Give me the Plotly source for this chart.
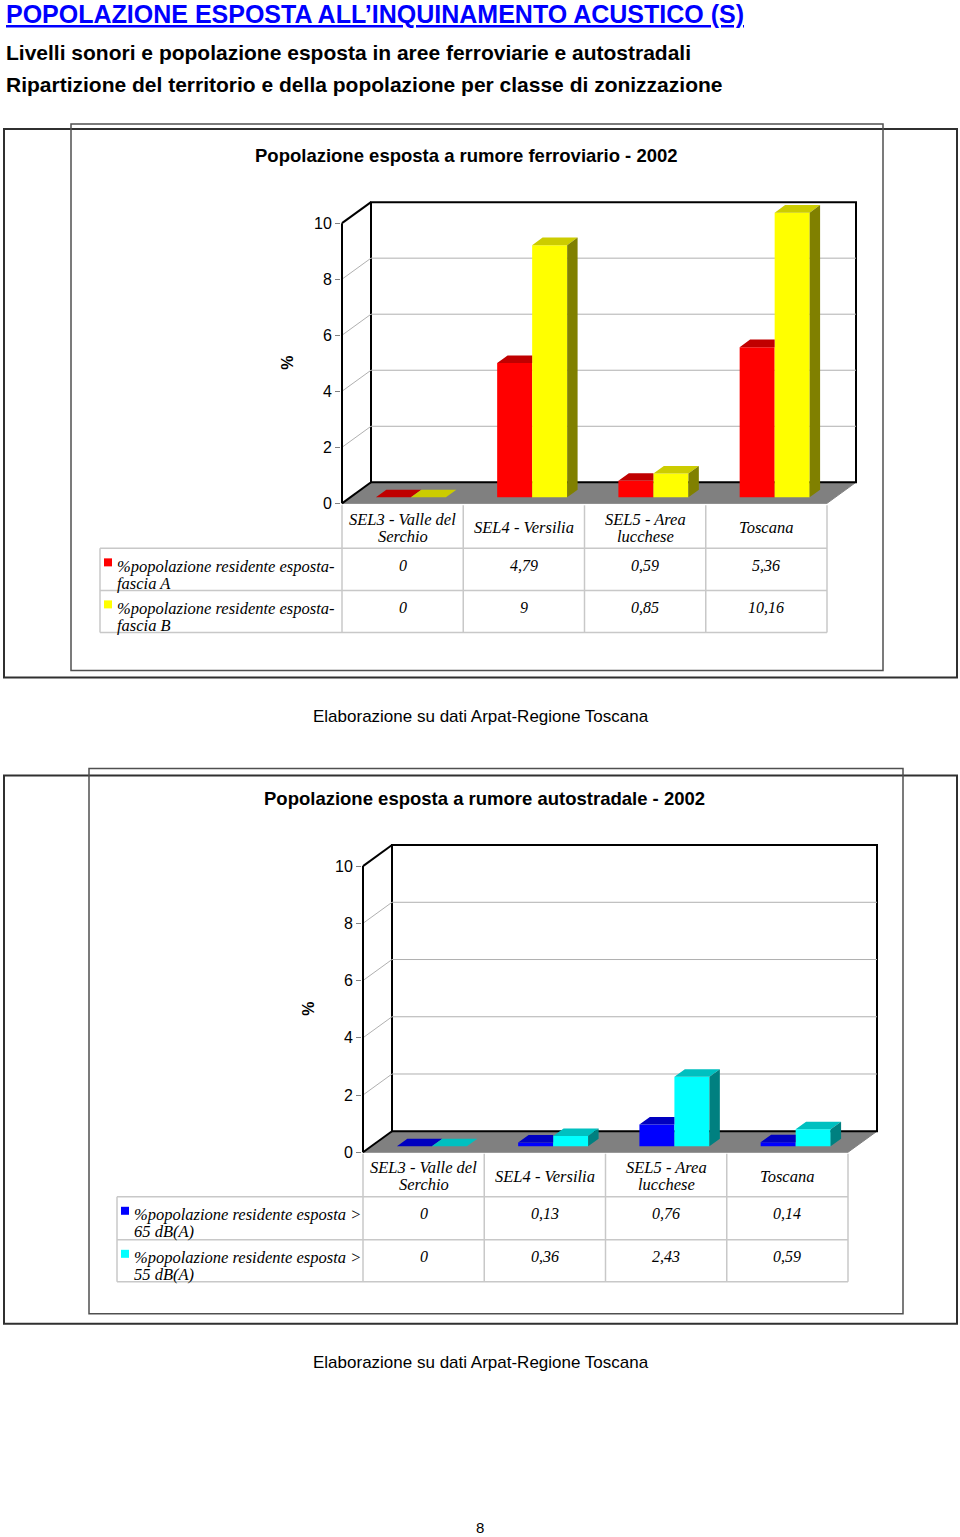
import plotly.graph_objects as go

# ---------------- data ----------------
categories = ["SEL3 - Valle del\nSerchio", "SEL4 - Versilia", "SEL5 - Area\nlucchese", "Toscana"]
yticks = [0, 2, 4, 6, 8, 10]

ferro_series = ["%popolazione residente esposta-\nfascia A",
                "%popolazione residente esposta-\nfascia B"]
ferro_A = [0, 4.79, 0.59, 5.36]
ferro_B = [0, 9, 0.85, 10.16]

auto_series = ["%popolazione residente esposta >\n65 dB(A)",
               "%popolazione residente esposta >\n55 dB(A)"]
auto_65 = [0, 0.13, 0.76, 0.14]
auto_55 = [0, 0.36, 2.43, 0.59]

page_title = "POPOLAZIONE ESPOSTA ALL’INQUINAMENTO ACUSTICO (S)"
subtitle1 = "Livelli sonori e popolazione esposta in aree ferroviarie e autostradali"
subtitle2 = "Ripartizione del territorio e della popolazione per classe di zonizzazione"
chart1_title = "Popolazione esposta a rumore ferroviario - 2002"
chart2_title = "Popolazione esposta a rumore autostradale - 2002"
source_text = "Elaborazione su dati Arpat-Regione Toscana"
page_number = "8"

# ---------------- helpers ----------------
W, H = 960, 1537
FIG_H = 1545
SANS = "Liberation Sans, Arial, sans-serif"
SERIF = "Liberation Serif, Times New Roman, serif"


def px(x):
    return x / W


def py(y):
    return 1 - y / H


def fmt(v):
    return f"{v:g}".replace(".", ",")


shapes = []
annotations = []
traces = []
layout_axes = {}


def ann(text, x, y, size, color="black", bold=False, xanchor="center", family=SANS, angle=0, yanchor="middle"):
    if bold:
        text = f"<b>{text}</b>"
    annotations.append(dict(text=text, x=px(x), y=py(y), xref="paper", yref="paper",
                            xanchor=xanchor, yanchor=yanchor, showarrow=False, textangle=angle,
                            font=dict(size=size, color=color, family=family)))


def pline(x0, y0, x1, y1, color, width):
    shapes.append(dict(type="line", xref="paper", yref="paper", x0=px(x0), y0=py(y0),
                       x1=px(x1), y1=py(y1), line=dict(color=color, width=width)))


def prect(x0, y0, x1, y1, color, width, fill=None):
    shapes.append(dict(type="rect", xref="paper", yref="paper", x0=px(x0), y0=py(y0),
                       x1=px(x1), y1=py(y1), line=dict(color=color, width=width),
                       fillcolor=fill if fill else "rgba(0,0,0,0)"))


def chart(idx, geo, series_names, series_vals, colors, title):
    xr = "x" if idx == 1 else f"x{idx}"
    yr = "y" if idx == 1 else f"y{idx}"
    xa = "xaxis" if idx == 1 else f"xaxis{idx}"
    ya = "yaxis" if idx == 1 else f"yaxis{idx}"
    fx0, sx, fy0, sy, ddx, ddy = geo["fx0"], geo["sx"], geo["fy0"], geo["sy"], geo["ddx"], geo["ddy"]
    n = len(categories)
    ymax = yticks[-1]
    right = fx0 + n * sx + ddx
    top = fy0 - ddy - ymax * sy
    DX, DY = ddx / sx, ddy / sy
    xl, xrgt = -0.5, n - 0.5

    layout_axes[xa] = dict(domain=[px(fx0 - 1), px(right + 3)],
                           range=[xl - 1 / sx, xl + (right + 3 - fx0) / sx],
                           visible=False, anchor=yr, fixedrange=True)
    layout_axes[ya] = dict(domain=[py(fy0 + 2), py(top - 3)],
                           range=[-2 / sy, (fy0 - top + 3) / sy],
                           tickvals=yticks, ticks="outside", ticklen=5, tickcolor="#808080",
                           tickfont=dict(size=16, family=SANS, color="black"),
                           showgrid=False, zeroline=False, showline=False, anchor=xr,
                           fixedrange=True)

    def dline(x0, y0, x1, y1, color, width):
        shapes.append(dict(type="line", xref=xr, yref=yr, x0=x0, y0=y0, x1=x1, y1=y1,
                           layer="below", line=dict(color=color, width=width)))

    # floor
    shapes.append(dict(type="path", xref=xr, yref=yr, layer="below",
                       path=f"M {xl},0 L {xrgt},0 L {xrgt + DX},{DY} L {xl + DX},{DY} Z",
                       fillcolor="#808080", line=dict(color="#808080", width=1)))
    # back wall
    shapes.append(dict(type="rect", xref=xr, yref=yr, layer="below",
                       x0=xl + DX, y0=DY, x1=xrgt + DX, y1=ymax + DY,
                       fillcolor="white", line=dict(color="black", width=2)))
    for v in yticks[1:-1]:
        dline(xl + DX, v + DY, xrgt + DX, v + DY, "#B0B0B0", 1)
        dline(xl, v, xl + DX, v + DY, "#B0B0B0", 1)
    # left wall edges
    dline(xl, 0, xl, ymax, "black", 2)
    dline(xl, ymax, xl + DX, ymax + DY, "black", 2)
    dline(xl, 0, xl + DX, DY, "black", 2)

    # bars
    d0, bd = 6 / 21, 0.36
    w = 35 / sx
    base = d0 * DY
    tdx, tdy = bd * DX, bd * DY
    xc = [i + d0 * DX for i in range(n)]
    for s, (vals, col) in enumerate(zip(series_vals, colors)):
        traces.append(go.Bar(x=xc, y=vals, base=base, width=w, offset=-w + s * w,
                             marker=dict(color=col["front"], line=dict(width=0)),
                             xaxis=xr, yaxis=yr, showlegend=False, hoverinfo="skip"))
    for s, (vals, col) in enumerate(zip(series_vals, colors)):
        other = series_vals[1 - s]
        tx, ty, sxs, sys_ = [], [], [], []
        for i in range(n):
            x0 = xc[i] - w + s * w
            x1 = x0 + w
            yt = base + vals[i]
            if s == 0 and other[i] > vals[i]:
                tx += [x0, x1, x1, x0 + tdx, x0, None]
                ty += [yt, yt, yt + tdy, yt + tdy, yt, None]
            else:
                tx += [x0, x1, x1 + tdx, x0 + tdx, x0, None]
                ty += [yt, yt, yt + tdy, yt + tdy, yt, None]
            if vals[i] > 0 and (s == 1 or vals[i] > other[i]):
                sxs += [x1, x1, x1 + tdx, x1 + tdx, x1, None]
                sys_ += [base, yt, yt + tdy, base + tdy, base, None]
        traces.append(go.Scatter(x=tx, y=ty, mode="lines", fill="toself",
                                 fillcolor=col["top"], line=dict(width=0, color=col["top"]),
                                 xaxis=xr, yaxis=yr, showlegend=False, hoverinfo="skip"))
        if sxs:
            traces.append(go.Scatter(x=sxs, y=sys_, mode="lines", fill="toself",
                                     fillcolor=col["side"], line=dict(width=0, color=col["side"]),
                                     xaxis=xr, yaxis=yr, showlegend=False, hoverinfo="skip"))

    # frames
    fr = geo["frames"]
    prect(*fr["outer"], "#303030", 2)
    prect(*fr["inner"], "#505050", 1.5)

    # titles
    ann(title, geo["title_x"], geo["title_y"], 18.5, bold=True)
    ann("%", geo["pct_x"], (fy0 + top) / 2 + 10, 16, bold=True, angle=-90)
    ann(source_text, 481, geo["source_y"], 17)

    # table
    tleft = geo["tleft"]
    rows = geo["rows"]
    tcol = "#C8C8C8"
    colx = [fx0 + i * sx for i in range(n + 1)]
    for x in colx:
        pline(x, rows[0], x, rows[-1], tcol, 1.5)
    pline(tleft, rows[1], tleft, rows[-1], tcol, 1.5)
    for y in rows[1:]:
        pline(tleft, y, colx[-1], y, tcol, 1.5)
    for i, cat in enumerate(categories):
        cx = (colx[i] + colx[i + 1]) / 2
        parts = cat.split("\n")
        hc = (rows[0] + rows[1]) / 2 + 1
        if len(parts) == 1:
            ann(f"<i>{parts[0]}</i>", cx, hc, 16.5, family=SERIF)
        else:
            ann(f"<i>{parts[0]}</i>", cx, hc - 8.5, 16.5, family=SERIF)
            ann(f"<i>{parts[1]}</i>", cx, hc + 8.5, 16.5, family=SERIF)
    for r, (name, vals, col) in enumerate(zip(series_names, series_vals, colors)):
        rt = rows[r + 1]
        prect(tleft + 4, rt + 10, tleft + 12, rt + 18, col["front"], 0, fill=col["front"])
        l1, l2 = name.split("\n")
        ann(f"<i>{l1}</i>", tleft + 15, rt + 18, 16.5, family=SERIF, xanchor="left")
        ann(f"<i>{l2}</i>", tleft + 15, rt + 35, 16.5, family=SERIF, xanchor="left")
        for i, v in enumerate(vals):
            cx = (colx[i] + colx[i + 1]) / 2
            ann(f"<i>{fmt(v)}</i>", cx, rt + 17, 16, family=SERIF)


red = dict(front="#FF0000", top="#C00000", side="#800000")
yellow = dict(front="#FFFF00", top="#CCCC00", side="#808000")
blue = dict(front="#0000FF", top="#0000C0", side="#000080")
cyan = dict(front="#00FFFF", top="#00C0C0", side="#008080")

geo1 = dict(fx0=342, sx=121.25, fy0=503, sy=28.0, ddx=29, ddy=21,
            frames=dict(outer=(4, 129, 957, 677), inner=(71, 124, 883, 670)),
            title_x=466, title_y=155, pct_x=288, source_y=716,
            tleft=100, rows=[505, 548, 590, 632])
geo2 = dict(fx0=363, sx=121.25, fy0=1151.5, sy=28.6, ddx=29, ddy=21,
            frames=dict(outer=(4, 775, 957, 1323), inner=(89, 768, 903, 1313)),
            title_x=484, title_y=798, pct_x=309, source_y=1362,
            tleft=117, rows=[1153, 1196, 1239, 1281])

chart(1, geo1, ferro_series, [ferro_A, ferro_B], [red, yellow], chart1_title)
chart(2, geo2, auto_series, [auto_65, auto_55], [blue, cyan], chart2_title)

# page header / footer
ann(f"<u>{page_title}</u>", 4, 14, 25, color="#0000FF", bold=True, xanchor="left")
ann(subtitle1, 4, 52, 21, bold=True, xanchor="left")
ann(subtitle2, 4, 84, 21, bold=True, xanchor="left")
ann(page_number, 480, 1527, 15)

fig = go.Figure(data=traces)
fig.update_layout(width=W, height=FIG_H, margin=dict(l=0, r=0, t=0, b=0),
                  paper_bgcolor="white", plot_bgcolor="rgba(0,0,0,0)",
                  barmode="overlay", shapes=shapes, annotations=annotations,
                  showlegend=False, **layout_axes)
fig.write_html("out.html", config={"displayModeBar": False},
               post_script="document.body.style.margin='0px';")
